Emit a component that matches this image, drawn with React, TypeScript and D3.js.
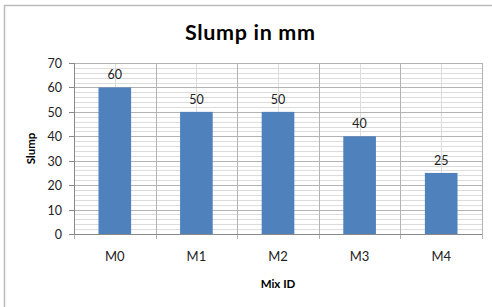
import React from "react";
import * as d3 from "d3";

const categories = ["M0", "M1", "M2", "M3", "M4"];
const slump = [60, 50, 50, 40, 25];
const yTicks = [0, 10, 20, 30, 40, 50, 60, 70];
const title = "Slump in mm";
const xTitle = "Mix ID";
const yTitle = "Slump";

const W = 492;
const H = 307;
const plot = { left: 74, right: 482, top: 63, bottom: 234 };
const FONT = "Lato, 'Open Sans', sans-serif";

export default function App() {
  const x = d3
    .scaleBand<string>()
    .domain(categories)
    .range([plot.left, plot.right])
    .paddingInner(0)
    .paddingOuter(0);
  const y = d3.scaleLinear().domain([0, 70]).range([plot.bottom, plot.top]);
  const bw = x.bandwidth() / 2.5;
  const minor = d3.range(0, 70.001, 2);
  const boundaries = categories.map((c) => x(c)!).concat([plot.right]);
  const centers = categories.map((c) => x(c)! + x.bandwidth() / 2);

  return (
    <svg
      width={W}
      height={H}
      style={{ position: "absolute", left: 0, top: 0, background: "#fff" }}
      fontFamily={FONT}
    >
      <rect x={4.5} y={5.5} width={W + 20} height={H + 20} fill="#fff" stroke="#bcbcbc" strokeWidth={1.5} />
      <text x={250} y={40} textAnchor="middle" fontSize={21.5} fontWeight="bold" fill="#000" textLength={130} lengthAdjust="spacing">
        {title}
      </text>
      {/* minor horizontal gridlines */}
      {minor.map((v) => (
        <line key={"mh" + v} x1={plot.left} x2={plot.right} y1={Math.round(y(v)) + 0.5} y2={Math.round(y(v)) + 0.5} stroke="#dcdcdc" strokeWidth={1} />
      ))}
      {/* minor vertical gridlines */}
      {centers.map((cx, i) => (
        <line key={"mv" + i} x1={Math.round(cx) + 0.5} x2={Math.round(cx) + 0.5} y1={plot.top} y2={plot.bottom} stroke="#dcdcdc" strokeWidth={1} />
      ))}
      {/* major gridlines */}
      {yTicks.map((v) => (
        <line key={"h" + v} x1={plot.left} x2={plot.right} y1={Math.round(y(v)) + 0.5} y2={Math.round(y(v)) + 0.5} stroke="#b3b3b3" strokeWidth={1} />
      ))}
      {boundaries.map((bx, i) => (
        <line key={"v" + i} x1={Math.round(bx) + 0.5} x2={Math.round(bx) + 0.5} y1={plot.top} y2={plot.bottom + 5} stroke="#b3b3b3" strokeWidth={1} />
      ))}
      {/* bars */}
      {slump.map((v, i) => {
        const cx = centers[i];
        return (
          <g key={"b" + i}>
            <rect x={cx - bw / 2} y={y(v)} width={bw} height={plot.bottom - y(v)} fill="#4f81bd" />
            <text x={cx} y={y(v) - 8} textAnchor="middle" fontSize={12.5} fill="#222">
              {v}
            </text>
          </g>
        );
      })}
      {/* axes */}
      <line x1={plot.left + 0.5} x2={plot.left + 0.5} y1={plot.top} y2={plot.bottom} stroke="#888" />
      <line x1={plot.left} x2={plot.right} y1={plot.bottom + 0.5} y2={plot.bottom + 0.5} stroke="#888" />
      {yTicks.map((v) => (
        <g key={"yt" + v}>
          <line x1={plot.left - 5} x2={plot.left} y1={Math.round(y(v)) + 0.5} y2={Math.round(y(v)) + 0.5} stroke="#888" />
          <text x={plot.left - 12} y={y(v) + 5} textAnchor="end" fontSize={12.5} fill="#222">
            {v}
          </text>
        </g>
      ))}
      {categories.map((c, i) => (
        <text key={"xl" + c} x={centers[i]} y={261} textAnchor="middle" fontSize={13} fill="#222">
          {c}
        </text>
      ))}
      <text x={(plot.left + plot.right) / 2} y={288} textAnchor="middle" fontSize={11.5} fontWeight="bold" fill="#000">
        {xTitle}
      </text>
      <text
        transform={`translate(35, ${(plot.top + plot.bottom) / 2}) rotate(-90)`}
        textAnchor="middle"
        fontSize={11.5}
        fontWeight="bold"
        fill="#000"
      >
        {yTitle}
      </text>
    </svg>
  );
}
